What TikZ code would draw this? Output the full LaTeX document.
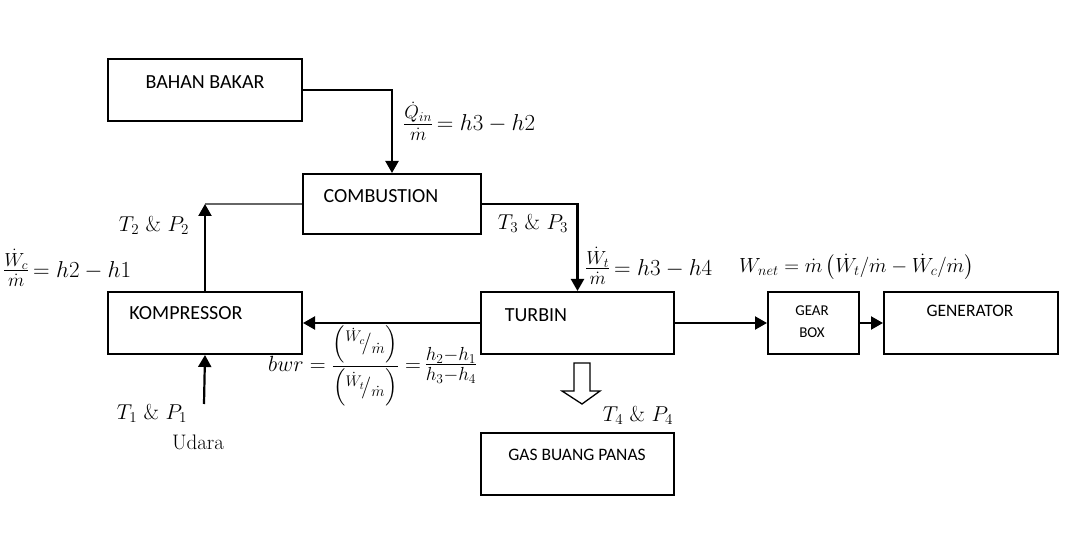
\RequirePackage{fix-cm}
\documentclass[tikz,border=0pt]{standalone}
\usepackage{amsmath}
\usepackage{fontspec}
\newfontfamily\boxfont{Carlito}
\usetikzlibrary{arrows.meta}

% a fraction set a little larger than the surrounding formula
\newcommand{\bigfr}[2]{{\fontsize{27}{30}\selectfont$\frac{#1}{#2}$}}

\tikzset{
  blockbox/.style={draw=black, line width=2pt, minimum width=#1, inner sep=0pt, anchor=north west, minimum height=62pt},
  blocklabel/.style={font=\boxfont\fontsize{20}{24}\selectfont, inner sep=0pt},
  smalllabel/.style={font=\boxfont\fontsize{17.5}{22}\selectfont, inner sep=0pt},
  flow/.style={line width=2.2pt, -{Triangle[length=12pt, width=13pt]}},
  thinlink/.style={line width=1.5pt, draw=black!60},
  eq/.style={font=\fontsize{23}{27}\selectfont, inner sep=0pt},
  state/.style={font=\fontsize{21.5}{25}\selectfont, inner sep=0pt},
}

\begin{document}
\begin{tikzpicture}[x=1pt, y=-1pt]
\useasboundingbox (0,0) rectangle (1078,534);

% blocks
\node[blockbox=194pt] (bb)   at (107,58)  {};
\node[blockbox=178pt, minimum height=60pt] (comb) at (302,173) {};
\node[blockbox=194pt] (komp) at (107,291) {};
\node[blockbox=193pt] (tur)  at (480,291) {};
\node[blockbox=91pt]  (gb)   at (767,291) {};
\node[blockbox=174pt] (gen)  at (883,291) {};
\node[blockbox=193pt] (gas)  at (480,432) {};

% block texts
\node[blocklabel] (bbt)   at (205,82)  {BAHAN BAKAR};
\node[blocklabel] (combt) at (381,196) {COMBUSTION};
\node[blocklabel] (kompt) at (186,313) {KOMPRESSOR};
\node[blocklabel] (turt)  at (536,315) {TURBIN};
\node[smalllabel] (gast)  at (577,455) {GAS BUANG PANAS};
\node[font=\boxfont\fontsize{15}{22}\selectfont, inner sep=0pt, align=center] (gbt) at (812,322) {GEAR\\BOX};
\node[smalllabel] (gent)  at (970,311) {GENERATOR};

% flows
\draw[flow] (bb.east) -| (comb.north);
\draw[flow] (comb.east) -| (tur.north);
\draw[thinlink] (komp.north |- comb.west) -- (comb.west);
\draw[flow] (komp.north) -- (komp.north |- comb.west);
\draw[flow] (tur.west) -- (komp.east);
\draw[flow] (tur.east) -- (gb.west);
\draw[flow] (gb.east) -- (gen.west);
\coordinate (air) at (204,404);
\draw[flow] (air) -- (komp.south);

% exhaust outlet (hollow arrow)
\draw[line width=1.3pt, fill=white] (574,363) -- (590,363) -- (590,391) -- (600,391)
  -- (582,404) -- (562,391) -- (574,391) -- cycle;

% states and energy relations
\node[eq, anchor=west] (qin) at (403,121) {\bigfr{\dot Q_{in}}{\dot m}$\, = h3 - h2$};
\node[eq, anchor=west] (wc) at (3,268) {\bigfr{\dot W_c}{\dot m}$\, = h2 - h1$};
\node[eq, anchor=west] (wt) at (585,266) {\bigfr{\dot W_t}{\dot m}$\, = h3 - h4$};
\node[eq, anchor=west, font=\fontsize{20.5}{24}\selectfont] (wnet) at (739,267)
  {$W_{net} = \dot m\left(\dot W_t/\dot m - \dot W_c/\dot m\right)$};
\node[eq, anchor=west, font=\fontsize{22}{26}\selectfont] (bwr) at (268,366)
  {$bwr = \dfrac{\left({}^{\dot W_c}\!/{}_{\dot m}\right)}{\left({}^{\dot W_t}\!/{}_{\dot m}\right)} =\,$\bigfr{h_2 - h_1}{h_3 - h_4}};

\node[state] (s2) at (154,225) {$T_2$ \& $P_2$};
\node[state] (s3) at (533,223) {$T_3$ \& $P_3$};
\node[state] (s1) at (152,413) {$T_1$ \& $P_1$};
\node[state] (s4) at (638,415) {$T_4$ \& $P_4$};
\node[font=\fontsize{21}{25}\selectfont, inner sep=0pt] (udara) at (198,442) {Udara};

\end{tikzpicture}
\end{document}
